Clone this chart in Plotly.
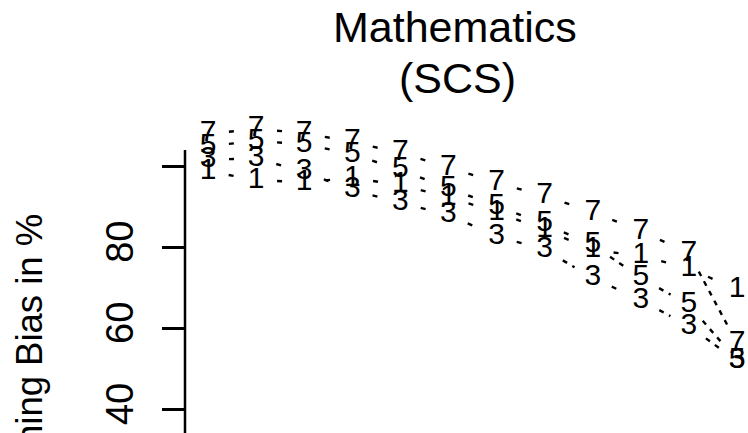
import math
import plotly.graph_objects as go

# Imputation step on the x axis and remaining bias (%) per method
steps = list(range(1, 13))
series_labels = ["1", "3", "5", "7"]
bias_1 = [98.8, 96.6, 96.1, 97.1, 95.4, 92.4, 88.7, 84.3, 79.4, 77.9, 74.9, 69.5]
bias_3 = [101.6, 102.0, 98.6, 94.2, 91.0, 88.0, 82.8, 79.4, 72.5, 67.0, 60.6, 52.0]
bias_5 = [105.0, 106.2, 105.5, 103.0, 99.1, 94.6, 90.2, 85.8, 80.6, 72.5, 65.8, 52.2]
bias_7 = [108.0, 109.2, 108.2, 106.0, 103.3, 99.8, 95.9, 92.7, 88.7, 84.0, 78.6, 56.4]
series_values = [bias_1, bias_3, bias_5, bias_7]

tick_values = [40, 60, 80, 100]
tick_text = ["40", "60", "80", ""]

title_lines = ["Mathematics", "(SCS)"]
y_title = "Remaining Bias in %"

W, H = 748, 433
M_LEFT = 185
X_RANGE = [0.5217, 12.229]
Y_RANGE = [34.23, 141.01]
AXIS_TOP = 104.0

SANS = "Liberation Sans, Arial, sans-serif"

plot_w = W - M_LEFT
plot_h = H
sx = plot_w / (X_RANGE[1] - X_RANGE[0])
sy = plot_h / (Y_RANGE[1] - Y_RANGE[0])
GAP = 21  # blank space left around each plotted character


def gapped_segments(xs, ys):
    """Point-to-point segments, trimmed at both ends so the symbols stay clear."""
    gx, gy = [], []
    for i in range(len(xs) - 1):
        dx = (xs[i + 1] - xs[i]) * sx
        dy = (ys[i + 1] - ys[i]) * sy
        dist = math.hypot(dx, dy)
        if dist <= 2 * GAP:
            continue
        f = GAP / dist
        gx += [xs[i] + f * (xs[i + 1] - xs[i]), xs[i + 1] - f * (xs[i + 1] - xs[i]), None]
        gy += [ys[i] + f * (ys[i + 1] - ys[i]), ys[i + 1] - f * (ys[i + 1] - ys[i]), None]
    return gx, gy


fig = go.Figure()

for vals in series_values:
    gx, gy = gapped_segments(steps, vals)
    fig.add_trace(go.Scatter(
        x=gx, y=gy, mode="lines",
        line=dict(color="black", width=2.4, dash="5px,6px"),
        hoverinfo="skip", showlegend=False,
    ))

for lab, vals in zip(series_labels, series_values):
    fig.add_trace(go.Scatter(
        x=steps, y=vals, mode="text",
        text=[lab] * len(steps), textposition="middle center",
        textfont=dict(family=SANS, size=30, color="black"),
        hoverinfo="skip", showlegend=False,
    ))

# left axis line
fig.add_shape(type="line", xref="paper", yref="y",
              x0=0, x1=0, y0=Y_RANGE[0], y1=AXIS_TOP,
              line=dict(color="black", width=2.5))

# two-line title
fig.add_annotation(text=title_lines[0], xref="paper", yref="paper",
                   x=(455 - M_LEFT) / plot_w, y=1 - 27 / H,
                   xanchor="center", yanchor="middle", showarrow=False,
                   font=dict(family=SANS, size=43, color="black"))
fig.add_annotation(text=title_lines[1], xref="paper", yref="paper",
                   x=(457 - M_LEFT) / plot_w, y=1 - 78 / H,
                   xanchor="center", yanchor="middle", showarrow=False,
                   font=dict(family=SANS, size=43, color="black"))

# y axis title
fig.add_annotation(text=y_title, xref="paper", yref="paper",
                   x=(29 - M_LEFT) / plot_w, y=1 - 212 / H,
                   xanchor="center", yanchor="top", textangle=-90,
                   showarrow=False,
                   font=dict(family=SANS, size=36.5, color="black"))

fig.update_layout(
    width=W, height=H,
    margin=dict(l=M_LEFT, r=0, t=0, b=0, pad=0),
    paper_bgcolor="white", plot_bgcolor="white",
    xaxis=dict(range=X_RANGE, visible=False, fixedrange=True),
    yaxis=dict(
        range=Y_RANGE, showgrid=False, zeroline=False, showline=False,
        tickmode="array", tickvals=tick_values, ticktext=tick_text,
        ticks="outside", ticklen=22, tickwidth=2.5, tickcolor="black",
        tickangle=-90, ticklabelstandoff=14,
        tickfont=dict(family=SANS, size=38, color="black"),
        fixedrange=True,
    ),
)

fig.write_html("out.html")
